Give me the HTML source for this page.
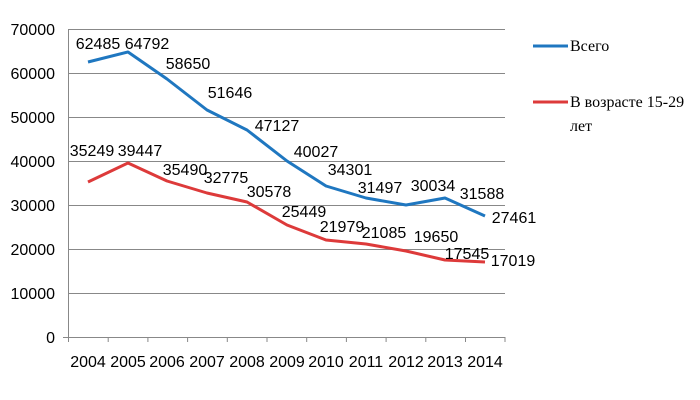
<!DOCTYPE html>
<html><head><meta charset="utf-8"><style>body{margin:0;background:#fff}svg{display:block}text{font-family:"Liberation Sans","DejaVu Sans",sans-serif;font-size:16px;fill:#000}.lg{font-family:"Liberation Serif","DejaVu Serif",serif;font-size:16px}</style></head><body>
<svg width="700" height="400" viewBox="0 0 700 400">
<g stroke="#888" stroke-width="1">
<line x1="68" y1="29.5" x2="505" y2="29.5"/><line x1="68" y1="73.5" x2="505" y2="73.5"/><line x1="68" y1="117.5" x2="505" y2="117.5"/><line x1="68" y1="161.5" x2="505" y2="161.5"/><line x1="68" y1="205.5" x2="505" y2="205.5"/><line x1="68" y1="249.5" x2="505" y2="249.5"/><line x1="68" y1="293.5" x2="505" y2="293.5"/><line x1="68" y1="337.5" x2="505" y2="337.5"/>
<line x1="68.5" y1="29" x2="68.5" y2="337"/>
<line x1="63" y1="337.5" x2="68" y2="337.5"/>
</g>
<g stroke="#888"><path d="M68.5 337v5M108.2 337v5M147.9 337v5M187.6 337v5M227.3 337v5M267 337v5M306.7 337v5M346.4 337v5M386.1 337v5M425.8 337v5M465.5 337v5M505 337v5"/></g>
<g text-anchor="end"><text x="55" y="35">70000</text><text x="55" y="79">60000</text><text x="55" y="123">50000</text><text x="55" y="167">40000</text><text x="55" y="211">30000</text><text x="55" y="255">20000</text><text x="55" y="299">10000</text><text x="55" y="343">0</text></g>
<g text-anchor="middle" style="font-size:15px"><text x="88" y="367">2004</text><text x="128" y="367">2005</text><text x="167" y="367">2006</text><text x="207" y="367">2007</text><text x="247" y="367">2008</text><text x="287" y="367">2009</text><text x="326" y="367">2010</text><text x="366" y="367">2011</text><text x="406" y="367">2012</text><text x="445" y="367">2013</text><text x="485" y="367">2014</text></g>
<polyline fill="none" stroke="#1f77c0" stroke-width="3" stroke-linejoin="round" points="88,62 128,52 167,79 207,110 247,130 287,161 326,186 366,198 406,205 445,198 485,216"/>
<polyline fill="none" stroke="#dd3a3a" stroke-width="3" stroke-linejoin="round" points="88,182 128,163 167,181 207,193 247,202 287,225 326,240 366,244 406,251 445,260 485,262"/>
<g text-anchor="middle">
<text x="98" y="49">62485</text><text x="147" y="49">64792</text><text x="188" y="69">58650</text><text x="230" y="98">51646</text><text x="277" y="131">47127</text><text x="316" y="157">40027</text><text x="350" y="175">34301</text><text x="380" y="193">31497</text><text x="433" y="191">30034</text><text x="482" y="199">31588</text><text x="514" y="223">27461</text>
<text x="92" y="156">35249</text><text x="140" y="156">39447</text><text x="185" y="175">35490</text><text x="226" y="183">32775</text><text x="269" y="197">30578</text><text x="304" y="217">25449</text><text x="342" y="232">21979</text><text x="384" y="238">21085</text><text x="436" y="242">19650</text><text x="467" y="259">17545</text><text x="513" y="266">17019</text>
</g>
<line x1="533" y1="46" x2="568" y2="46" stroke="#1f77c0" stroke-width="3"/>
<text class="lg" x="570" y="51">Всего</text>
<line x1="533" y1="102" x2="568" y2="102" stroke="#dd3a3a" stroke-width="3"/>
<text class="lg" x="570" y="107">В возрасте 15-29</text>
<text class="lg" x="570" y="131">лет</text>
</svg>
</body></html>
